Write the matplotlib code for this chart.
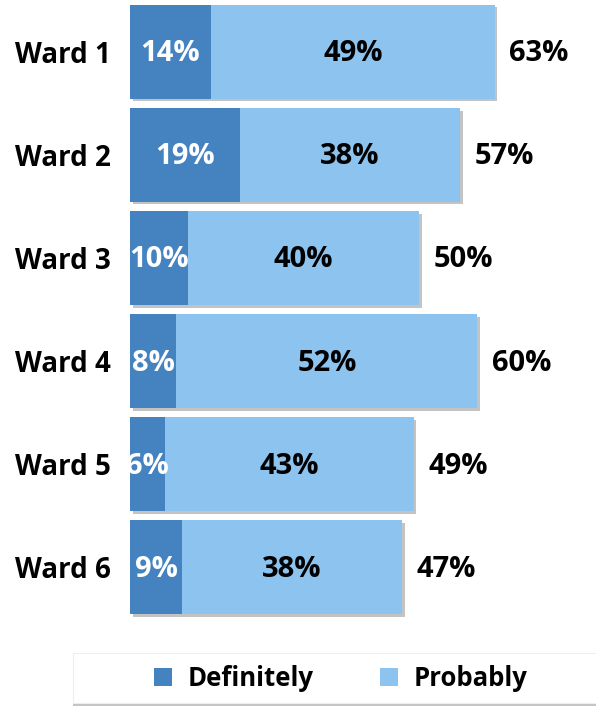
import matplotlib.pyplot as plt
import matplotlib.patheffects as pe
from matplotlib.patches import Rectangle, Patch
import numpy as np

plt.rcParams['font.family'] = ['Open Sans', 'DejaVu Sans']

wards = ['Ward 1', 'Ward 2', 'Ward 3', 'Ward 4', 'Ward 5', 'Ward 6']
definitely = [14, 19, 10, 8, 6, 9]
probably = [49, 38, 40, 52, 43, 38]
totals = [63, 57, 50, 60, 49, 47]

dark = '#4583c0'
light = '#8dc3ef'

fig = plt.figure(figsize=(5.96, 7.06), dpi=100)
ax = fig.add_axes([130 / 596, 87 / 706, 466 / 596, 619 / 706])

y = np.arange(len(wards))
shadow = [pe.SimplePatchShadow(offset=(2, -2), shadow_rgbFace='#888888', alpha=0.5), pe.Normal()]

ax.barh(y, definitely, height=0.91, color=dark, path_effects=shadow, zorder=2)
ax.barh(y, probably, left=definitely, height=0.91, color=light, path_effects=shadow, zorder=3)

for i in range(len(wards)):
    ax.text(definitely[i] / 2, y[i] + 0.02, f'{definitely[i]}%', ha='center', va='center',
            color='white', fontsize=21, fontweight='bold', zorder=5)
    ax.text(definitely[i] + probably[i] / 2, y[i] + 0.02, f'{probably[i]}%', ha='center', va='center',
            color='black', fontsize=21, fontweight='bold', zorder=5)
    ax.text(totals[i] + 2.5, y[i] + 0.02, f'{totals[i]}%', ha='left', va='center',
            color='black', fontsize=21, fontweight='bold', zorder=5)

ax.set_xlim(0, 80.5)
ax.set_ylim(5.5, -0.5)
ax.set_yticks(y)
ax.set_yticklabels(wards, fontsize=20, fontweight='bold')
ax.tick_params(axis='y', length=0, pad=14)
ax.set_xticks([])
for s in ax.spines.values():
    s.set_visible(False)

# legend frame
frame = Rectangle((73 / 596, 3 / 706), 540 / 596, 50 / 706, transform=fig.transFigure,
                  facecolor='white', edgecolor='#eeeeee', lw=0.8,
                  path_effects=[pe.SimplePatchShadow(offset=(0, -2), shadow_rgbFace='#888888', alpha=0.5), pe.Normal()])
fig.patches.append(frame)

handles = [Patch(facecolor=dark), Patch(facecolor=light)]
fig.legend(handles, ['Definitely', 'Probably'], loc='center', bbox_to_anchor=(341 / 596, 28 / 706),
           ncol=2, frameon=False, prop={'size': 18.5, 'weight': 'bold'},
           handlelength=0.7, handleheight=0.7, handletextpad=0.6, columnspacing=2.6)

fig.savefig('out.png', dpi=100)
